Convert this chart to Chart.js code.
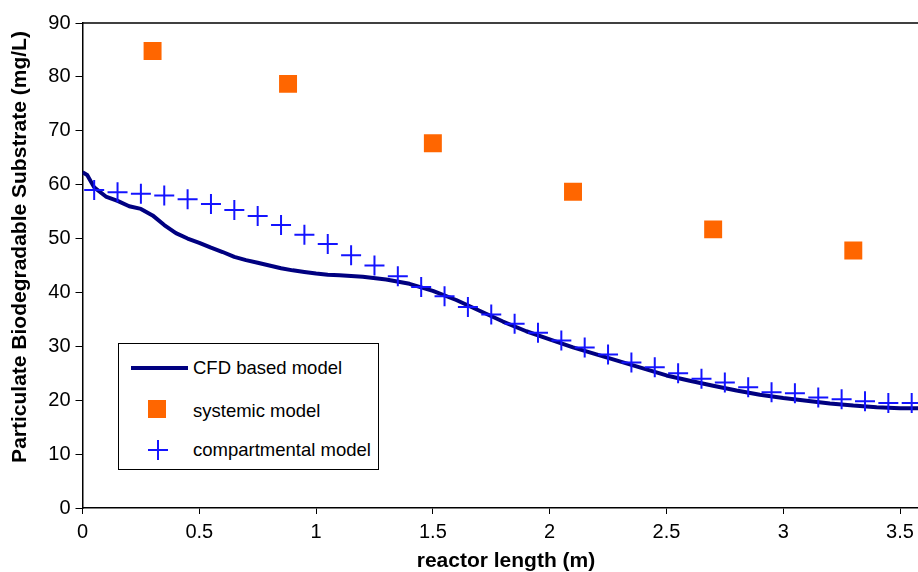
<!DOCTYPE html>
<html>
<head>
<meta charset="utf-8">
<script src="https://cdn.jsdelivr.net/npm/chart.js@4/dist/chart.umd.min.js"></script>
<style>
  html, body { margin: 0; padding: 0; background: #fff; }
  #wrap { position: relative; width: 918px; height: 572px; overflow: hidden; }
  canvas { position: absolute; left: 0; top: 0; }
  #legend { position: absolute; left: 118px; top: 343px; width: 259px; height: 125px;
    border: 1.5px solid #000; background: #fff; font-family: 'Liberation Sans', Arial, sans-serif;
    font-size: 18.5px; color: #000; }
  .lg-item { position: absolute; left: 74px; height: 22px; line-height: 22px; white-space: nowrap; }
  .lg-line { position: absolute; left: 12px; width: 57px; height: 4px; background: #000080; }
  .lg-sq { position: absolute; left: 29px; width: 18px; height: 18px; background: #FF6600; }
  .lg-plus-h { position: absolute; left: 29px; width: 20px; height: 2px; background: #1414FF; }
  .lg-plus-v { position: absolute; left: 38px; width: 2px; height: 20px; background: #1414FF; }
</style>
</head>
<body>
<div id="wrap">
  <canvas id="c" width="918" height="572"></canvas>
  <div id="legend">
    <div class="lg-line" style="top:22px"></div>
    <div class="lg-item" style="top:13px">CFD based model</div>
    <div class="lg-sq" style="top:56px"></div>
    <div class="lg-item" style="top:56px">systemic model</div>
    <div class="lg-plus-h" style="top:105px"></div>
    <div class="lg-plus-v" style="top:96px"></div>
    <div class="lg-item" style="top:95px">compartmental model</div>
  </div>
</div>
<script>
// ---- data ----
const cfdX = [0, 0.02, 0.05, 0.1, 0.15, 0.2, 0.25, 0.3, 0.35, 0.4, 0.45, 0.5, 0.55, 0.6, 0.65, 0.7, 0.75, 0.8, 0.85, 0.9, 0.95, 1.0, 1.05, 1.1, 1.2, 1.3, 1.4, 1.5, 1.6, 1.7, 1.8, 1.9, 2.0, 2.1, 2.2, 2.3, 2.4, 2.5, 2.6, 2.7, 2.8, 2.9, 3.0, 3.1, 3.2, 3.3, 3.4, 3.5, 3.58];
const cfdY = [62.3, 61.8, 59.5, 57.8, 57.0, 56.0, 55.5, 54.3, 52.5, 51.0, 50.0, 49.2, 48.3, 47.5, 46.6, 46.0, 45.5, 45.0, 44.5, 44.1, 43.8, 43.5, 43.3, 43.2, 42.9, 42.4, 41.6, 40.3, 38.6, 36.6, 34.6, 32.8, 31.3, 29.8, 28.5, 27.2, 25.9, 24.6, 23.6, 22.7, 21.8, 21.0, 20.4, 19.9, 19.4, 19.0, 18.7, 18.5, 18.5];

const systemicX = [0.3, 0.88, 1.5, 2.1, 2.7, 3.3];
const systemicY = [84.8, 78.7, 67.7, 58.7, 51.7, 47.8];

const compX = [0.05, 0.15, 0.25, 0.35, 0.45, 0.55, 0.65, 0.75, 0.85, 0.95, 1.05, 1.15, 1.25, 1.35, 1.45, 1.55, 1.65, 1.75, 1.85, 1.95, 2.05, 2.15, 2.25, 2.35, 2.45, 2.55, 2.65, 2.75, 2.85, 2.95, 3.05, 3.15, 3.25, 3.35, 3.45, 3.55];
const compY = [59.0, 58.6, 58.3, 58.0, 57.3, 56.4, 55.3, 54.2, 52.5, 50.7, 49.0, 46.9, 45.0, 43.0, 41.0, 39.3, 37.3, 35.9, 34.2, 32.5, 31.1, 29.8, 28.5, 27.0, 26.1, 25.0, 24.0, 23.3, 22.4, 21.5, 21.3, 20.5, 20.2, 19.8, 19.5, 19.5];

const seriesNames = ['CFD based model', 'systemic model', 'compartmental model'];
const xTitle = 'reactor length (m)';
const yTitle = 'Particulate Biodegradable Substrate (mg/L)';

const toPts = (xs, ys) => xs.map((x, i) => ({ x: x, y: ys[i] }));
const FONT = "'Liberation Sans', Arial, sans-serif";

const framePlugin = {
  id: 'frame',
  afterDraw(chart) {
    const ctx = chart.ctx, a = chart.chartArea;
    ctx.save();
    ctx.strokeStyle = '#000';
    ctx.lineWidth = 1.5;
    ctx.beginPath();
    ctx.moveTo(a.left, a.top);
    ctx.lineTo(a.right, a.top);
    ctx.stroke();
    ctx.fillStyle = '#000';
    ctx.font = 'bold 21px ' + FONT;
    ctx.textAlign = 'center';
    ctx.textBaseline = 'middle';
    ctx.fillText(xTitle, 506, 561);
    ctx.translate(20, 247);
    ctx.rotate(-Math.PI / 2);
    ctx.fillText(yTitle, 0, 0);
    ctx.restore();
  }
};

new Chart(document.getElementById('c'), {
  type: 'scatter',
  data: {
    datasets: [
      { label: seriesNames[0], data: toPts(cfdX, cfdY), showLine: true, borderColor: '#000080',
        borderWidth: 4, pointRadius: 0, tension: 0, order: 3, borderJoinStyle: 'round' },
      { label: seriesNames[1], data: toPts(systemicX, systemicY), pointStyle: 'rect', pointRadius: 12.7,
        backgroundColor: '#FF6600', borderColor: '#FF6600', borderWidth: 0, order: 2 },
      { label: seriesNames[2], data: toPts(compX, compY), pointStyle: 'cross', pointRadius: 10,
        borderColor: '#1414FF', backgroundColor: '#1414FF', borderWidth: 2, order: 1 }
    ]
  },
  options: {
    responsive: false,
    animation: false,
    layout: { autoPadding: false, padding: { top: 23, right: 0, bottom: 0, left: 0 } },
    plugins: { legend: { display: false }, tooltip: { enabled: false } },
    scales: {
      x: {
        type: 'linear', min: 0, max: 3.577,
        ticks: { stepSize: 0.5, includeBounds: false, color: '#000', padding: 6,
          font: { family: FONT, size: 20, lineHeight: 1.2 },
          callback: v => String(Math.round(v * 10) / 10) },
        grid: { display: true, drawOnChartArea: false, drawTicks: true, tickLength: 6, color: '#000', lineWidth: 1 },
        border: { display: true, color: '#000', width: 1.5 },
        afterFit: s => { s.height = 64; s.paddingRight = 0; }
      },
      y: {
        type: 'linear', min: 0, max: 90,
        ticks: { stepSize: 10, color: '#000', padding: 5, font: { family: FONT, size: 20 } },
        grid: { display: true, drawOnChartArea: false, drawTicks: true, tickLength: 7, color: '#000', lineWidth: 1 },
        border: { display: true, color: '#000', width: 1.5 },
        afterFit: s => { s.width = 82.5; }
      }
    }
  },
  plugins: [framePlugin]
});
</script>
</body>
</html>
